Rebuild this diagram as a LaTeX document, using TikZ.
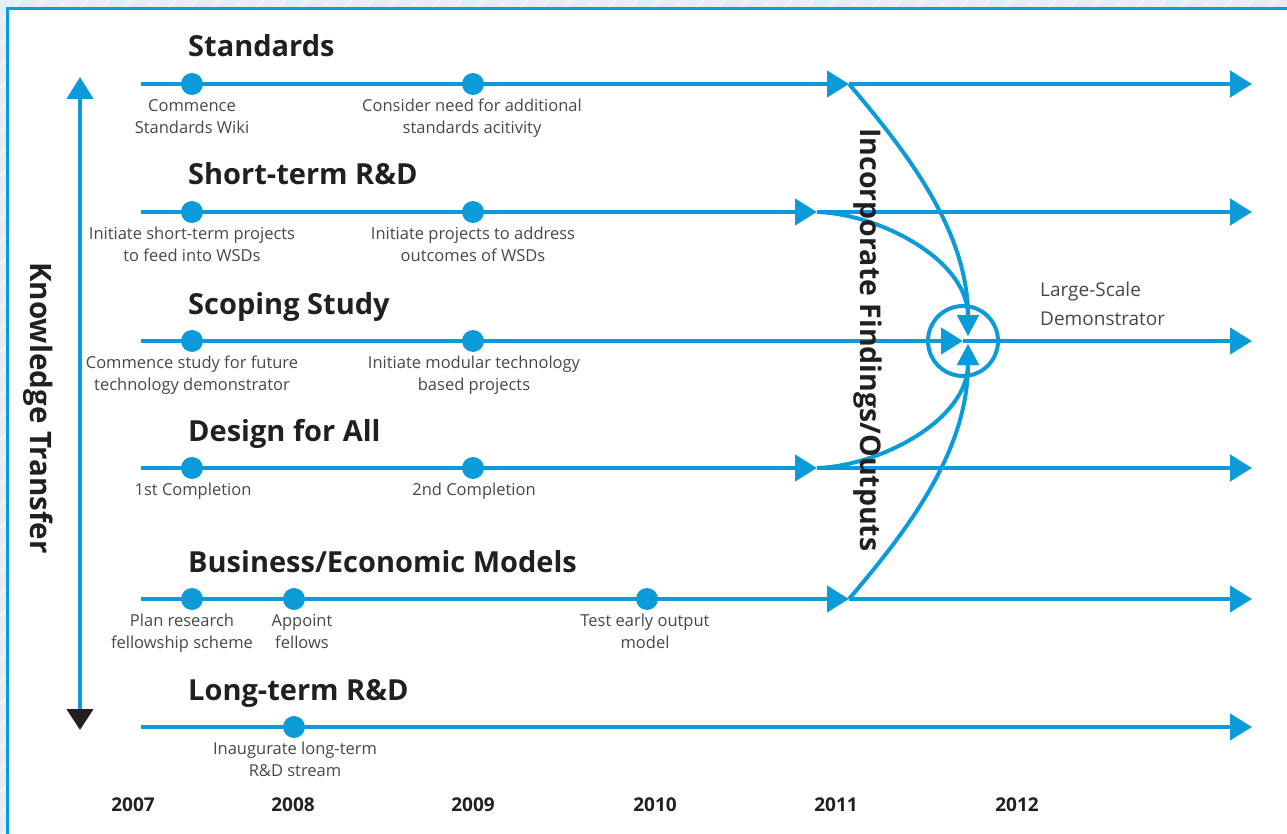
\documentclass[tikz,border=0pt]{standalone}
\usepackage{fontspec}
\setmainfont{Open Sans}
\usetikzlibrary{arrows.meta}

\definecolor{lineblue}{HTML}{0B9BD9}
\definecolor{ink}{HTML}{231F20}
\definecolor{labelink}{HTML}{474747}
\definecolor{bandblue}{HTML}{E3EEF8}

\tikzset{
  track/.style={draw=lineblue, line width=4.5pt},
  curve/.style={draw=lineblue, line width=4pt},
  tip/.style={-{Triangle[length=22pt,width=26pt]}},
  vtip/.style={-{Triangle[length=21pt,width=21pt]}},
  dot/.style={circle, fill=lineblue, minimum size=22pt, inner sep=0pt},
  lbl/.style={anchor=north, align=center, inner sep=0pt, text=labelink,
              font=\fontsize{16.5}{22}\selectfont},
  ttl/.style={anchor=base west, inner sep=0pt, text=ink,
              font=\fontsize{29}{34}\selectfont\bfseries},
  yr/.style={inner sep=0pt, text=ink, font=\fontsize{19}{22}\selectfont\bfseries},
  side/.style={inner sep=0pt, text=ink, rotate=-90,
               font=\fontsize{28.5}{34}\selectfont\bfseries},
}

\begin{document}
\begin{tikzpicture}[x=1pt, y=-1pt]
\useasboundingbox (0,0) rectangle (1287,834);

% hatched margin band and frame line
\fill[bandblue] (0,0) rectangle (1287,9);
\fill[bandblue] (0,0) rectangle (7,834);
\begin{scope}
  \clip (0,0) rectangle (1287,9) (0,0) rectangle (7,834);
  \foreach \i in {0,22,...,2200}
    \draw[white, line width=0.8pt] (\i-834,834) -- (\i,0);
\end{scope}
\draw[lineblue, line width=3pt] (7,834) -- (7,9) -- (1287,9);

% track end points
\foreach \name/\yy in {std/84, str/212, scp/341, dfa/468, bem/599, ltr/727} {
  \coordinate (\name-s) at (141,\yy);
  \coordinate (\name-e) at (1252,\yy);
}
\coordinate (std-m) at (849,84);
\coordinate (str-m) at (817,212);
\coordinate (dfa-m) at (817,468);
\coordinate (bem-m) at (849,599);

% large-scale demonstrator hub
\node[circle, draw=lineblue, line width=4pt, minimum size=70pt, inner sep=0pt] (hub) at (963,341) {};
\coordinate (hub-top) at (968,336);
\coordinate (hub-bot) at (968,344);

% tracks
\draw[track, tip] (std-s) -- (std-m);
\draw[track, tip] (std-m) -- (std-e);
\draw[track, tip] (str-s) -- (str-m);
\draw[track, tip] (str-m) -- (str-e);
\draw[track, tip] (scp-s) -- (hub.center);
\draw[track, tip] (hub.center) -- (scp-e);
\draw[track, tip] (dfa-s) -- (dfa-m);
\draw[track, tip] (dfa-m) -- (dfa-e);
\draw[track, tip] (bem-s) -- (bem-m);
\draw[track, tip] (bem-m) -- (bem-e);
\draw[track, tip] (ltr-s) -- (ltr-e);

% findings feeding into the demonstrator
\draw[curve, vtip] (std-m) .. controls (905,150) and (968,230) .. (hub-top);
\draw[curve, vtip] (str-m) .. controls (880,214) and (968,260) .. (hub-top);
\draw[curve, vtip] (dfa-m) .. controls (880,466) and (968,420) .. (hub-bot);
\draw[curve, vtip] (bem-m) .. controls (905,533) and (968,453) .. (hub-bot);

% stream titles
\node[ttl] (t-std) at (188,57) {Standards};
\node[ttl] (t-str) at (188,185) {Short-term R\&D};
\node[ttl] (t-scp) at (188,314) {Scoping Study};
\node[ttl] (t-dfa) at (188,441) {Design for All};
\node[ttl] (t-bem) at (188,572) {Business/Economic Models};
\node[ttl] (t-ltr) at (188,700) {Long-term R\&D};

% milestones
\node[dot] (d-std1) at (192,84) {};
\node[dot] (d-std2) at (473,84) {};
\node[dot] (d-str1) at (192,212) {};
\node[dot] (d-str2) at (473,212) {};
\node[dot] (d-scp1) at (192,341) {};
\node[dot] (d-scp2) at (473,341) {};
\node[dot] (d-dfa1) at (192,468) {};
\node[dot] (d-dfa2) at (473,468) {};
\node[dot] (d-bem1) at (192,599) {};
\node[dot] (d-bem2) at (294,599) {};
\node[dot] (d-bem3) at (647,599) {};
\node[dot] (d-ltr1) at (294,727) {};

% milestone labels
\node[lbl] (l-std1) at (192,99) {Commence\\Standards Wiki};
\node[lbl] (l-std2) at (472,99) {Consider need for additional\\standards acitivity};
\node[lbl] (l-str1) at (192,227) {Initiate short-term projects\\to feed into WSDs};
\node[lbl] (l-str2) at (473,227) {Initiate projects to address\\outcomes of WSDs};
\node[lbl] (l-scp1) at (192,356) {Commence study for future\\technology demonstrator};
\node[lbl] (l-scp2) at (474,356) {Initiate modular technology\\based projects};
\node[lbl] (l-dfa1) at (193,483) {1st Completion};
\node[lbl] (l-dfa2) at (474,483) {2nd Completion};
\node[lbl] (l-bem1) at (182,614) {Plan research\\fellowship scheme};
\node[lbl] (l-bem2) at (302,614) {Appoint\\fellows};
\node[lbl] (l-bem3) at (645,614) {Test early output\\model};
\node[lbl] (l-ltr1) at (295,742) {Inaugurate long-term\\R\&D stream};

\node[anchor=north west, align=left, inner sep=0pt, text=labelink,
      font=\fontsize{19}{28.5}\selectfont] (demo) at (1040,282) {Large-Scale\\Demonstrator};

% years
\node[yr] (y07) at (133,805) {2007};
\node[yr] (y08) at (293,805) {2008};
\node[yr] (y09) at (473,805) {2009};
\node[yr] (y10) at (655,805) {2010};
\node[yr] (y11) at (836,805) {2011};
\node[yr] (y12) at (1017,805) {2012};

% knowledge transfer axis
\coordinate (kt-top) at (80,77);
\coordinate (kt-bot) at (80,730);
\draw[lineblue, line width=4.5pt,
      {Triangle[length=21pt,width=26pt,color=ink]}-{Triangle[length=22pt,width=26pt]}]
  (kt-bot) -- (kt-top);
\node[side, font=\fontsize{29.5}{34}\selectfont\bfseries] (kt) at (38,408) {Knowledge Transfer};

\node[side] (inc) at (868,340) {Incorporate Findings/Outputs};
\end{tikzpicture}
\end{document}
